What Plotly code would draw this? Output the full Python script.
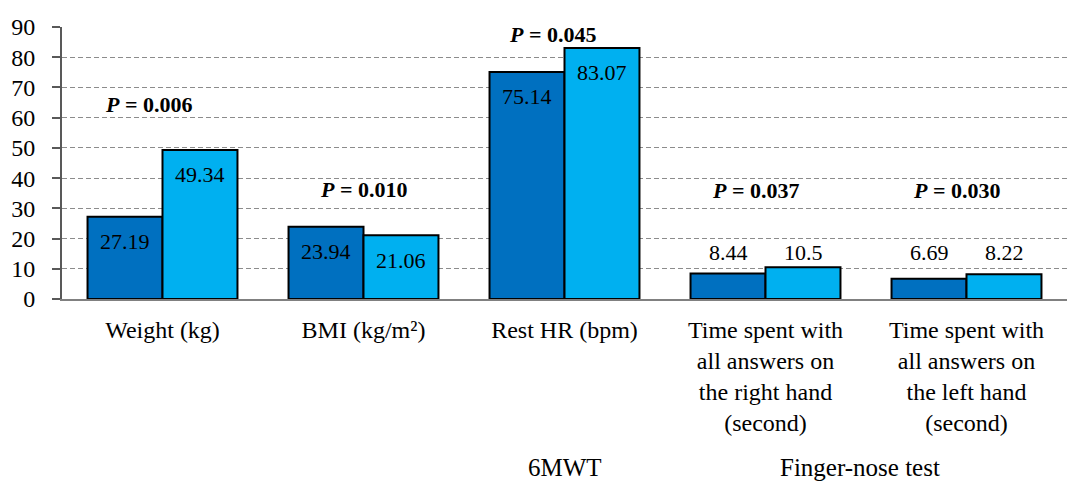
import plotly.graph_objects as go

# Measures and the two groups compared for each
categories = [
    "Weight (kg)",
    "BMI (kg/m²)",
    "Rest HR (bpm)",
    "Time spent with<br>all answers on<br>the right hand<br>(second)",
    "Time spent with<br>all answers on<br>the left hand<br>(second)",
]
group_a = [27.19, 23.94, 75.14, 8.44, 6.69]
group_b = [49.34, 21.06, 83.07, 10.5, 8.22]
p_values = ["0.006", "0.010", "0.045", "0.037", "0.030"]
p_label_y = [64.5, 36.1, 87.4, 35.8, 35.8]
p_label_shift = [-14, 0, -12, -10, -10]
y_ticks = [0, 10, 20, 30, 40, 50, 60, 70, 80, 90]
section_labels = ["6MWT", "Finger-nose test"]

FONT = "Liberation Serif"
DARK = "#0070C0"
LIGHT = "#00B0F0"
BAR_HALF = 37.5          # half of one bar's width in px
SMALL_LABEL_Y = 15.5     # labels for short bars sit above them

fig = go.Figure()
fig.add_trace(go.Bar(x=categories, y=group_a, marker=dict(color=DARK, line=dict(color="black", width=2)),
                     name="A", showlegend=False))
fig.add_trace(go.Bar(x=categories, y=group_b, marker=dict(color=LIGHT, line=dict(color="black", width=2)),
                     name="B", showlegend=False))

annotations = []
for i, cat in enumerate(categories):
    for vals, shift in ((group_a, -BAR_HALF), (group_b, BAR_HALF)):
        v = vals[i]
        annotations.append(dict(x=cat, y=v if v > 15 else SMALL_LABEL_Y,
                                yshift=-25 if v > 15 else 0, xshift=shift, text=f"{v:g}",
                                showarrow=False, yanchor="middle",
                                font=dict(family=FONT, size=22, color="black")))
    annotations.append(dict(x=cat, y=p_label_y[i], xshift=p_label_shift[i],
                            text=f"<b><i>P</i> = {p_values[i]}</b>", showarrow=False,
                            yanchor="middle", font=dict(family=FONT, size=22, color="black")))

annotations.append(dict(x=categories[2], y=-0.621, yref="paper", text=section_labels[0],
                        showarrow=False, yanchor="middle",
                        font=dict(family=FONT, size=25, color="black")))
annotations.append(dict(x=3.5, y=-0.621, yref="paper", xshift=-6, text=section_labels[1],
                        showarrow=False, yanchor="middle",
                        font=dict(family=FONT, size=25, color="black")))

fig.update_layout(
    width=1067, height=482,
    margin=dict(l=62, r=0, t=27, b=183),
    paper_bgcolor="white", plot_bgcolor="white",
    barmode="group", bargap=0.254, bargroupgap=0,
    font=dict(family=FONT, color="black"),
    annotations=annotations,
    xaxis=dict(showline=True, linecolor="#808080", linewidth=2, ticks="",
               tickfont=dict(family=FONT, size=24, color="black"),
               ticklabelstandoff=8, showgrid=False),
    yaxis=dict(range=[0, 90], tickvals=y_ticks, showline=True, linecolor="#595959", linewidth=2,
               ticks="outside", ticklen=8, tickcolor="#595959", tickwidth=2,
               tickfont=dict(family=FONT, size=24, color="black"), ticklabelstandoff=12,
               showgrid=True, gridcolor="#8c8c8c", gridwidth=1, griddash="5px,3px",
               zeroline=False),
)

fig.write_html("out.html")
